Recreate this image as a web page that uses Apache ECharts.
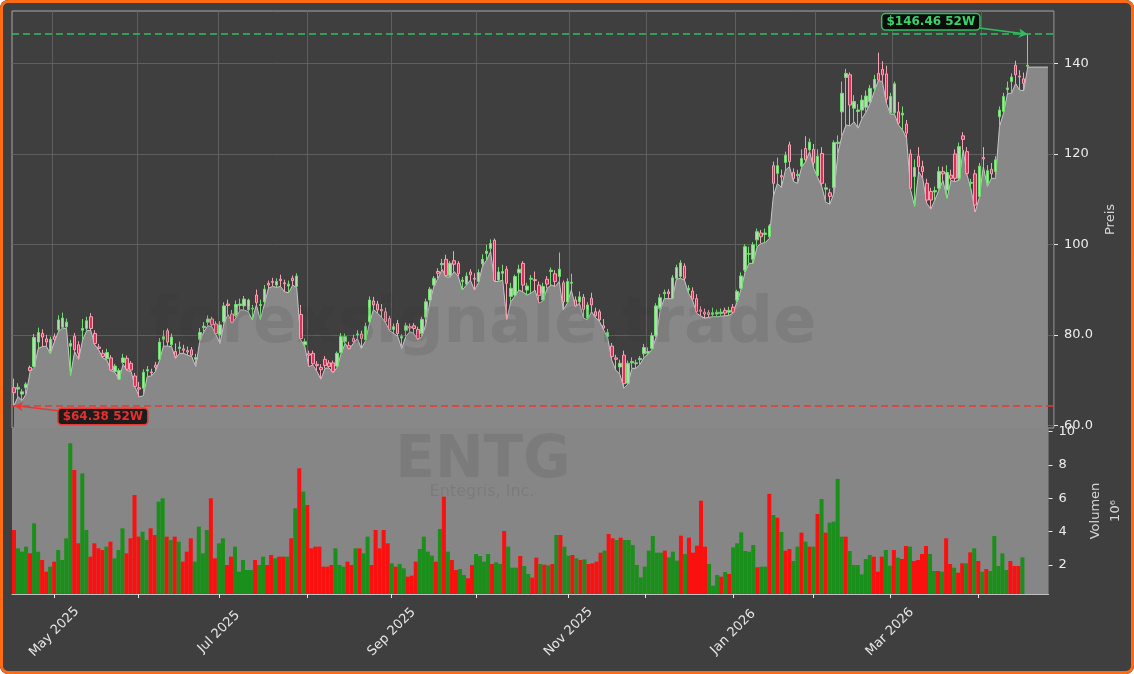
<!DOCTYPE html>
<html>
<head>
<meta charset="utf-8">
<script src="https://cdn.jsdelivr.net/npm/echarts@6/dist/echarts.min.js"></script>
<style>
html,body{margin:0;padding:0;background:#fff;}
#wrap{position:relative;width:1134px;height:674px;background:#3f3f3f;border-radius:8px;overflow:hidden;}
#main{position:absolute;left:0;top:0;width:1134px;height:674px;}
#rim{position:absolute;left:0;top:0;width:1134px;height:674px;box-sizing:border-box;border:3px solid #ff6a13;border-radius:8px;pointer-events:none;}
</style>
</head>
<body>
<div id="wrap"><div id="main"></div><div id="rim"></div></div>
<script>
var holidays = ["2025-04-18","2025-05-26","2025-06-19","2025-07-04","2025-09-01","2025-11-27","2025-12-25","2026-01-01","2026-01-19","2026-02-16","2026-04-03"];
var slotCount = 258;
var monthNames = ["Jan","Feb","Mar","Apr","May","Jun","Jul","Aug","Sep","Oct","Nov","Dec"];
var labelMonths = [4,6,8,10,0,2];

var opens = [68.3,68.0,66.9,68.3,72.8,73.0,78.4,80.3,79.1,76.3,79.6,81.1,81.7,81.8,77.5,79.7,77.8,81.0,81.4,84.0,
80.3,77.3,75.9,74.7,74.9,71.9,70.2,73.9,74.8,73.7,70.9,68.3,68.2,72.0,71.8,73.3,74.6,79.0,80.9,77.8,
76.3,77.0,76.9,76.5,76.7,74.6,79.0,81.6,82.8,83.5,82.4,80.0,82.9,86.8,84.6,84.2,86.5,86.4,85.5,85.7,
88.8,86.5,87.3,91.4,91.8,91.0,92.3,91.5,90.8,92.5,90.7,84.5,77.8,75.8,75.9,73.5,72.8,74.6,73.8,73.8,
73.1,76.1,78.5,77.6,79.2,80.0,80.2,78.9,82.9,87.5,86.8,85.6,85.1,83.6,81.2,82.5,79.3,81.0,81.8,82.0,
81.2,80.3,83.9,87.7,91.0,94.0,95.5,96.7,93.1,96.4,95.8,91.8,91.2,93.9,92.5,91.8,95.7,98.0,99.1,100.9,
92.1,93.6,94.5,88.5,88.8,93.7,95.8,89.9,92.3,92.2,91.0,87.7,92.3,94.0,93.5,92.9,91.5,87.3,91.4,87.7,
87.3,88.3,83.7,88.1,85.1,85.1,82.0,79.6,77.5,74.9,72.9,75.5,69.3,73.8,73.6,74.5,75.8,76.0,77.0,79.8,
85.8,89.1,89.5,88.1,92.5,92.9,95.2,89.9,89.7,88.0,85.5,85.0,84.9,84.5,84.6,84.7,85.4,85.0,86.1,87.7,
90.3,94.3,97.8,96.7,101.0,102.5,102.2,101.7,117.4,115.7,115.2,118.1,122.0,115.9,115.2,117.3,121.2,120.9,121.0,115.2,
120.1,112.2,111.4,112.6,122.3,129.3,136.9,137.5,130.1,129.4,129.7,130.3,131.6,134.5,137.8,138.7,137.7,129.1,129.1,129.3,
128.6,126.6,120.0,115.0,119.5,117.2,113.5,111.7,111.6,112.4,116.1,112.0,115.3,120.0,114.6,124.0,120.5,113.5,115.6,110.6,
119.2,113.5,116.6,116.1,128.2,129.4,134.2,136.0,139.6,137.2,136.6,139.4];

var closes = [67.2,68.4,67.4,69.1,72.1,79.4,80.5,79.5,78.4,79.0,79.0,83.3,83.7,82.8,78.1,76.7,75.9,81.4,83.1,81.4,
78.1,77.0,75.2,76.1,72.2,73.1,72.1,74.9,72.4,72.2,68.6,68.0,71.7,72.3,71.6,72.8,78.4,79.6,78.4,79.5,
75.2,77.3,76.6,76.2,75.5,75.0,80.5,81.9,83.5,82.2,80.3,82.2,86.4,86.5,82.8,86.7,86.8,87.9,87.7,85.9,
87.1,86.7,90.1,91.0,91.6,91.8,92.0,91.3,91.2,92.0,93.0,79.2,78.5,75.5,73.6,73.2,72.3,73.2,73.0,71.9,
75.9,79.6,79.6,77.0,78.5,80.2,79.2,81.9,87.7,86.6,85.5,85.3,82.9,81.1,81.8,80.3,79.6,82.0,81.5,81.4,
79.2,83.4,87.3,90.1,92.5,93.6,95.8,93.1,95.8,95.6,93.5,92.1,93.0,93.3,92.3,93.8,96.7,98.5,100.2,92.0,
93.9,94.0,91.4,90.3,92.9,94.5,91.0,90.8,92.5,92.0,88.7,90.7,91.2,94.3,91.8,94.5,87.3,91.8,91.6,86.4,
88.4,85.6,86.6,86.6,84.2,83.3,81.5,80.5,75.2,74.6,73.7,69.2,73.7,74.1,73.8,74.8,77.2,76.3,79.8,86.4,
88.2,89.4,89.1,92.6,94.9,95.9,92.5,90.3,87.9,85.1,85.2,84.6,84.5,84.9,85.0,85.0,84.8,85.4,85.0,89.6,
93.0,99.5,98.0,99.9,102.8,101.7,102.5,104.1,113.5,117.4,114.9,119.7,118.3,114.6,115.5,119.0,118.7,122.6,118.0,119.5,
113.5,112.5,110.6,122.5,122.6,133.4,137.8,130.8,131.6,129.7,131.9,132.8,134.5,136.5,136.3,137.5,132.1,132.7,135.5,126.8,
129.0,124.6,112.4,117.0,117.2,116.1,109.8,109.8,111.9,116.1,115.6,115.9,114.6,114.6,121.6,123.2,115.7,113.7,108.7,117.3,
118.9,116.3,115.6,118.7,129.7,132.7,134.6,137.0,137.5,137.0,135.6,139.6];

var lows = [64.38,66.3,65.5,66.9,71.9,72.8,77.0,77.4,77.5,75.8,78.5,80.7,81.5,81.4,71.0,76.3,74.6,78.9,80.9,81.0,
77.8,76.6,74.9,74.4,72.1,71.7,70.0,73.5,72.1,71.9,68.4,66.3,66.5,70.8,70.9,71.9,74.3,77.5,77.5,77.4,
74.8,75.9,75.9,75.5,75.2,73.0,78.6,80.7,82.0,81.8,80.0,78.1,82.6,84.5,82.6,83.8,85.5,85.5,85.1,83.3,
86.6,83.3,86.8,90.3,90.7,90.5,90.7,89.5,89.3,91.0,90.4,78.9,77.4,73.0,73.3,71.9,70.2,72.6,72.7,71.6,
72.8,75.9,78.1,76.8,78.1,79.2,77.0,78.6,82.5,85.6,84.8,83.9,82.7,80.9,80.3,79.7,77.0,79.6,80.7,80.3,
78.9,79.6,82.5,87.5,90.8,92.5,94.5,92.8,92.8,94.0,92.9,89.9,91.0,92.1,89.9,91.5,95.2,96.5,98.4,91.8,
91.8,92.1,83.4,87.3,88.5,89.9,89.5,88.8,89.2,89.9,87.0,87.5,90.3,91.0,90.7,91.8,85.5,87.0,89.9,86.2,
87.0,83.7,83.3,85.1,83.8,82.9,81.1,79.3,74.4,72.2,71.3,68.2,69.1,72.6,72.6,73.5,75.0,75.7,76.8,79.5,
85.5,88.0,88.0,88.0,92.3,92.5,92.1,89.2,87.7,84.8,84.2,83.7,83.9,84.0,84.0,84.1,84.2,84.3,84.8,87.2,
90.0,93.8,95.8,95.8,99.5,100.2,100.4,101.3,110.6,113.5,112.6,116.4,117.2,113.9,113.5,117.0,118.3,120.5,116.8,114.8,
112.8,109.3,108.9,111.3,120.2,124.0,126.4,126.2,127.1,125.7,127.9,129.3,131.2,133.8,136.2,136.0,131.2,128.8,128.8,126.4,
125.3,123.5,112.0,108.4,116.1,114.6,109.1,107.8,109.8,112.0,114.1,110.2,114.1,113.9,114.2,120.9,115.3,112.0,107.2,110.3,
117.2,112.8,114.6,114.6,126.0,129.0,133.4,133.4,135.6,134.1,134.0,139.2,
139.2,139.2,139.2,139.2,139.2];

var highs = [70.3,69.3,68.0,69.5,73.2,80.2,81.6,81.2,80.0,79.6,80.3,84.3,84.9,83.6,78.9,80.4,78.6,83.5,84.0,84.8,
81.0,78.0,76.7,76.9,75.5,73.6,72.6,75.8,75.4,74.2,71.6,69.6,72.4,73.1,72.5,74.0,79.3,81.0,81.4,80.3,
78.1,78.5,77.8,77.4,77.3,75.8,81.5,82.8,84.3,84.0,83.0,83.0,87.2,87.8,85.5,87.6,88.0,88.6,88.0,86.6,
90.0,87.8,91.0,92.0,92.6,92.5,93.3,92.2,92.0,93.1,93.6,86.6,79.2,76.5,76.5,74.2,73.5,75.3,74.4,74.3,
76.3,80.4,80.3,78.5,80.0,81.0,80.9,82.7,88.5,88.4,87.5,86.8,86.0,84.2,82.5,83.3,80.1,82.7,82.5,82.6,
81.8,84.0,88.0,90.6,93.0,94.7,96.8,97.7,96.3,98.5,96.3,92.8,93.8,94.5,93.6,94.5,97.8,99.9,101.1,101.3,
95.0,95.5,95.2,91.5,93.3,95.5,96.3,91.5,93.2,94.0,91.8,91.5,93.0,94.9,94.3,98.2,92.0,92.5,93.5,88.5,
89.6,89.0,87.2,89.3,86.0,85.6,83.5,81.3,78.2,75.6,74.5,76.5,74.3,75.0,74.5,75.3,78.0,77.2,80.5,87.0,
89.0,90.0,90.1,93.2,95.5,96.5,95.8,91.0,90.5,89.0,86.3,85.8,85.5,86.0,85.6,85.8,86.0,86.2,86.8,90.0,
93.8,100.0,99.5,100.5,103.5,103.2,103.5,104.5,118.3,119.2,116.5,120.5,122.7,116.8,116.5,121.0,123.9,123.4,122.2,121.0,
121.5,113.5,112.3,123.0,124.1,136.0,138.8,138.0,133.0,131.0,133.0,134.0,135.2,137.5,142.4,140.5,139.5,133.5,136.0,131.5,
130.5,127.5,121.0,118.8,121.5,118.5,114.5,112.5,112.8,117.2,117.2,117.5,116.5,121.0,122.5,124.8,121.5,114.5,116.5,118.0,
121.5,117.5,118.0,119.5,130.5,133.5,136.0,137.8,140.6,138.5,138.0,146.46];

var volumes = [4.1,3.0,2.8,3.1,2.7,4.5,2.8,2.3,1.6,1.9,2.2,2.9,2.3,3.6,9.3,7.7,3.3,7.5,4.1,2.5,
3.3,3.0,2.9,3.1,3.4,2.4,2.9,4.2,2.7,3.6,6.2,3.7,4.0,3.5,4.2,3.8,5.8,6.0,3.7,3.5,
3.7,3.4,2.2,2.8,3.6,2.2,4.3,2.7,4.1,6.0,2.4,3.3,3.6,2.0,2.5,3.1,1.6,2.3,1.7,1.7,
2.3,2.0,2.5,2.0,2.6,2.4,2.5,2.5,2.5,3.6,5.4,7.8,6.4,5.6,3.0,3.1,3.1,1.9,1.9,2.0,
3.0,2.0,1.9,2.2,2.0,3.0,3.0,2.7,3.7,2.0,4.1,3.0,4.1,3.3,2.1,1.9,2.06,1.8,1.3,1.36,
2.2,2.96,3.7,2.8,2.56,2.2,4.16,6.1,2.8,2.3,1.7,1.76,1.4,1.2,2.0,2.66,2.54,2.2,2.66,2.06,
2.16,2.06,4.04,3.1,1.84,1.84,2.54,1.94,1.46,1.24,2.44,2.06,2.02,1.98,2.06,3.8,3.8,3.1,2.56,2.6,
2.4,2.3,2.34,2.06,2.1,2.2,2.74,2.86,3.86,3.6,3.5,3.64,3.5,3.5,3.2,2.0,1.26,1.9,2.86,3.74,
2.74,2.74,2.86,2.46,2.8,2.26,3.76,2.66,3.64,2.74,3.16,5.86,3.1,2.06,0.76,1.4,1.3,1.58,1.46,3.06,
3.3,3.96,2.84,2.8,3.2,1.86,1.9,1.9,6.27,5.0,4.84,3.98,2.86,2.96,2.24,3.1,3.94,3.4,3.1,3.1,
5.06,5.96,3.94,4.54,4.6,7.17,3.7,3.7,2.84,2.0,2.0,1.44,2.36,2.6,2.5,1.6,2.5,2.9,1.96,2.9,
2.44,2.36,3.14,3.1,2.24,2.3,2.66,3.14,2.66,1.64,1.64,1.6,3.6,2.06,1.84,1.54,2.1,2.1,2.76,3.0,
2.24,1.6,1.76,1.64,3.74,1.94,2.7,1.7,2.24,1.94,1.94,2.46];

var yearHigh = 146.46;
var yearLow = 64.38;
var priceTicks = [60,80,100,120,140];
var volumeTicks = [2,4,6,8,10];

function pad(n){return n<10?"0"+n:""+n;}
var dates = [];
var d = new Date(Date.UTC(2025,3,16));
while(dates.length<slotCount){
 var s = d.getUTCFullYear()+"-"+pad(d.getUTCMonth()+1)+"-"+pad(d.getUTCDate());
 var wd = d.getUTCDay();
 if(wd!=0&&wd!=6&&holidays.indexOf(s)<0) dates.push(s);
 d.setUTCDate(d.getUTCDate()+1);
}
function isMonthStart(i){
 return i>0 && dates[i].slice(0,7)!=dates[i-1].slice(0,7);
}
function isLabeled(i){
 return isMonthStart(i) && labelMonths.indexOf(+dates[i].slice(5,7)-1)>=0;
}

var candles = opens.map(function(o,i){return [o,closes[i],lows[i],highs[i]];});
var volData = volumes.map(function(v,i){
 return {value:v,itemStyle:{color:closes[i]>=opens[i]?"#1b8f1b":"#fb1010"}};
});
var last = opens.length-1;

var green = "#2fbf5f";
var red = "#e53935";
var wm = "rgba(50,50,50,0.12)";

var chart = echarts.init(document.getElementById("main"));
var option = {
 animation:false,
 backgroundColor:"transparent",
 textStyle:{fontFamily:"DejaVu Sans"},
 grid:[
  {left:12,right:80,top:11,height:417,show:true,borderColor:"#a8a8a8",borderWidth:1,backgroundColor:"transparent"},
  {left:12,right:80,top:428,height:166,show:true,borderWidth:0,backgroundColor:"#868686"}
 ],
 xAxis:[
  {type:"category",gridIndex:0,data:dates,boundaryGap:true,
   axisLine:{show:false},axisTick:{show:false},axisLabel:{show:false},
   splitLine:{show:true,interval:function(i){return isMonthStart(i);},lineStyle:{color:"#5f5f5f",width:1}}},
  {type:"category",gridIndex:1,data:dates,boundaryGap:true,
   axisLine:{show:true,lineStyle:{color:"#c0c0c0"}},
   axisTick:{show:true,alignWithLabel:true,interval:function(i){return isMonthStart(i);},length:4,lineStyle:{color:"#e6e6e6"}},
   axisLabel:{show:true,interval:function(i){return isLabeled(i);},rotate:45,align:"center",verticalAlign:"middle",
    color:"#e6e6e6",fontSize:13,margin:38,
    formatter:function(v){return monthNames[+v.slice(5,7)-1]+" "+v.slice(0,4);}},
   splitLine:{show:false}}
 ],
 yAxis:[
  {type:"value",gridIndex:0,position:"right",min:59.4,max:151.6,
   name:"Preis",nameLocation:"middle",nameRotate:90,nameGap:44,nameTextStyle:{color:"#d6d6d6",fontSize:13},
   axisLine:{show:false},
   axisTick:{show:true,customValues:priceTicks,length:4,lineStyle:{color:"#e6e6e6"}},
   axisLabel:{customValues:priceTicks,color:"#ececec",fontSize:13,margin:10,
    formatter:function(v){return v<100?v.toFixed(1):String(v);}},
   splitLine:{show:true,lineStyle:{color:"#5f5f5f",width:1}}},
  {type:"value",gridIndex:1,position:"right",min:0.26,max:10.22,
   name:"Volumen\n10\u2076",nameLocation:"middle",nameRotate:90,nameGap:30,nameTextStyle:{color:"#d6d6d6",fontSize:13,lineHeight:20},
   axisLine:{show:false},
   axisTick:{show:true,customValues:volumeTicks,length:4,lineStyle:{color:"#e6e6e6"}},
   axisLabel:{customValues:volumeTicks,color:"#ececec",fontSize:13,margin:10},
   splitLine:{show:false}}
 ],
 graphic:[
  {type:"text",x:483,y:325,z:100,silent:true,style:{text:"forexsignale.trade",font:"bold 64px DejaVu Sans",fill:wm,align:"center",verticalAlign:"middle"}},
  {type:"text",x:483,y:462,z:100,silent:true,style:{text:"ENTG",font:"bold 58px DejaVu Sans",fill:wm,align:"center",verticalAlign:"middle"}},
  {type:"text",x:482,y:492,z:100,silent:true,style:{text:"Entegris, Inc.",font:"16px DejaVu Sans",fill:wm,align:"center",verticalAlign:"middle"}}
 ],
 series:[
  {type:"line",xAxisIndex:0,yAxisIndex:0,data:lows,showSymbol:false,symbol:"none",z:1,
   lineStyle:{color:"#c6c6c6",width:1},areaStyle:{color:"#888888",opacity:1}},
  {type:"candlestick",xAxisIndex:0,yAxisIndex:0,data:candles,barWidth:3,z:3,
   itemStyle:{color:"#b2dbb2",color0:"#e0315b",borderColor:"#72dc72",borderColor0:"#f4a3b5",borderWidth:1},
   markLine:{silent:true,symbol:["none","none"],label:{show:false},
    data:[
     {yAxis:yearHigh,lineStyle:{color:green,type:[7,4],width:1.5}},
     {yAxis:yearLow,lineStyle:{color:red,type:[7,4],width:1.5}},
     [{coord:[239,147.85],symbol:"none",lineStyle:{color:green,type:"solid",width:1.5}},{coord:[last,yearHigh],symbol:"arrow",symbolSize:[7,9]}],
     [{coord:[11,63.2],symbol:"none",lineStyle:{color:red,type:"solid",width:1.5}},{coord:[0,yearLow],symbol:"arrow",symbolSize:[7,9]}]
    ]},
   markPoint:{silent:true,
    data:[
     {coord:[227,149.2],symbol:"rect",symbolSize:1,itemStyle:{color:"transparent"},
      label:{show:true,position:"inside",formatter:"$"+yearHigh.toFixed(2)+" 52W",color:"#3ad36a",fontWeight:"bold",fontSize:12,
       backgroundColor:"#0c0c0c",borderColor:green,borderWidth:1.5,borderRadius:3,padding:[2,4,1,4]}},
     {coord:[22,61.95],symbol:"rect",symbolSize:1,itemStyle:{color:"transparent"},
      label:{show:true,position:"inside",formatter:"$"+yearLow.toFixed(2)+" 52W",color:"#e53030",fontWeight:"bold",fontSize:12,
       backgroundColor:"#1c1c1c",borderColor:red,borderWidth:1.5,borderRadius:3,padding:[2,4,1,4]}}
    ]}},
  {type:"bar",xAxisIndex:1,yAxisIndex:1,data:volData,barCategoryGap:"0%",barWidth:"100%"}
 ]
};
chart.setOption(option);
</script>
</body>
</html>
